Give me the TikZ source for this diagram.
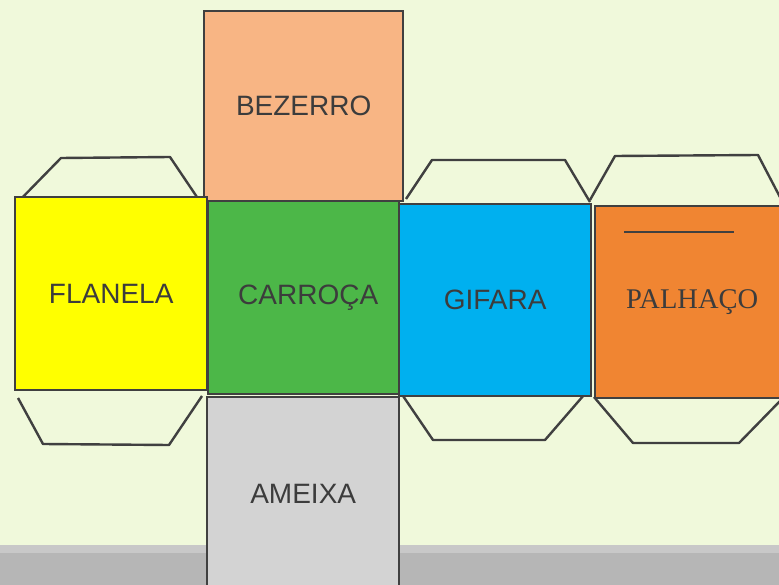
\documentclass[tikz,border=0pt]{standalone}
\usepackage{fontspec}
\setmainfont{Liberation Sans}
\newfontfamily\serifface{Liberation Serif}
\usetikzlibrary{positioning}

\definecolor{bgcol}{HTML}{F0F9DB}
\definecolor{bandcol}{HTML}{B6B6B6}
\definecolor{bandtop}{HTML}{C8C8C8}
\definecolor{edgecol}{HTML}{404040}
\definecolor{txtcol}{HTML}{3C3C3C}
\definecolor{bezerrocol}{HTML}{F8B584}
\definecolor{carrocacol}{HTML}{4CB748}
\definecolor{flanelacol}{HTML}{FFFF00}
\definecolor{gifaracol}{HTML}{00B0EF}
\definecolor{palhacocol}{HTML}{F08532}
\definecolor{ameixacol}{HTML}{D3D3D3}

\tikzstyle{face} = [draw=edgecol, line width=2.4pt, rectangle, inner sep=0pt, anchor=north west, text=txtcol, font=\fontsize{28}{32}\selectfont]
\tikzstyle{tab} = [draw=edgecol, line width=2.4pt, line join=round]

\begin{document}
\begin{tikzpicture}[x=1pt,y=-1pt]
\useasboundingbox (0,0) rectangle (779,585);
\clip (0,0) rectangle (779,585);
\fill[bgcol] (0,0) rectangle (779,585);
\fill[bandcol] (0,547) rectangle (779,585);
\fill[bandtop] (0,545) rectangle (779,553);

% flaps
\draw[tab] (17,203) -- (61,158) -- (170,157) -- (201,203);
\draw[tab] (18,398) -- (43,444) -- (169,445) -- (202,396);
\draw[tab] (406,199) -- (432,160) -- (565,160) -- (590,202);
\draw[tab] (401,393) -- (433,440) -- (545,440) -- (590,388);
\draw[tab] (590,200) -- (615,156) -- (758,155) -- (781,199);
\draw[tab] (594,397) -- (633,443) -- (739,443) -- (781,400);

% faces
\node[face,fill=bezerrocol,minimum width=199,minimum height=190] (bez) at (203,10) {\raisebox{-2pt}{BEZERRO}};
\node[face,fill=flanelacol,minimum width=192,minimum height=193] (fla) at (14,196) {FLANELA};
\node[face,fill=carrocacol,minimum width=191,minimum height=193] (car) at (207,200) {\hspace{9pt}\raisebox{-1pt}{CARROÇA}};
\node[face,fill=gifaracol,minimum width=192,minimum height=192] (gif) at (398,203) {GIFARA};
\node[face,fill=palhacocol,minimum width=194,minimum height=192,font=\serifface\fontsize{28.5}{32}\selectfont] (pal) at (594,205) {\raisebox{-3pt}{PALHAÇO}};
\node[face,fill=ameixacol,minimum width=192,minimum height=194] (ame) at (206,396) {AMEIXA};

\draw[tab] (624,232) -- (734,232);

\end{tikzpicture}
\end{document}
